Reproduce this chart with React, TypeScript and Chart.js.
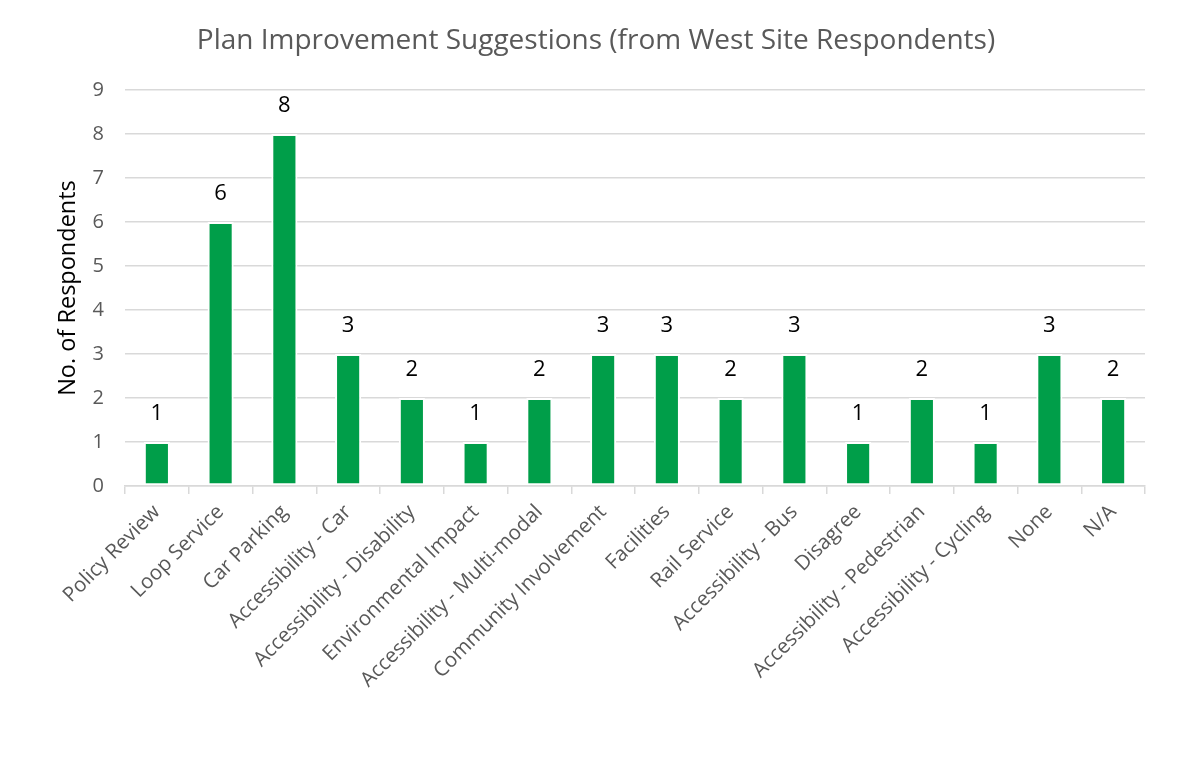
import React, { useEffect, useRef } from "react";
import { Chart, registerables } from "chart.js";

Chart.register(...registerables);

const categories = [
  "Policy Review",
  "Loop Service",
  "Car Parking",
  "Accessibility - Car",
  "Accessibility - Disability",
  "Environmental Impact",
  "Accessibility - Multi-modal",
  "Community Involvement",
  "Facilities",
  "Rail Service",
  "Accessibility - Bus",
  "Disagree",
  "Accessibility - Pedestrian",
  "Accessibility - Cycling",
  "None",
  "N/A",
];
const respondents = [1, 6, 8, 3, 2, 1, 2, 3, 3, 2, 3, 1, 2, 1, 3, 2];
const chartTitle = "Plan Improvement Suggestions (from West Site Respondents)";
const yAxisTitle = "No. of Respondents";

const FONT = "'Open Sans', sans-serif";

export default function App() {
  const ref = useRef<HTMLCanvasElement | null>(null);
  useEffect(() => {
    if (!ref.current) return;
    const labelPlugin = {
      id: "labels",
      afterDatasetsDraw(chart: any) {
        const ctx = chart.ctx;
        const meta = chart.getDatasetMeta(0);
        ctx.save();
        ctx.font = `22px ${FONT}`;
        ctx.fillStyle = "#000000";
        ctx.textAlign = "center";
        ctx.textBaseline = "middle";
        meta.data.forEach((bar: any, i: number) => {
          ctx.fillText(String(respondents[i]), bar.x, bar.y - 28);
        });
        ctx.font = `28px ${FONT}`;
        ctx.fillStyle = "#595959";
        ctx.fillText(chartTitle, 596, 41);
        ctx.restore();
      },
    };
    const chart = new Chart(ref.current, {
      type: "bar",
      data: {
        labels: categories,
        datasets: [
          {
            data: respondents,
            backgroundColor: "#009E49",
            borderColor: "#ffffff",
            borderWidth: 2,
            borderSkipped: false,
            categoryPercentage: 1,
            barPercentage: 0.41,
          },
        ],
      },
      options: {
        animation: false,
        responsive: false,
        maintainAspectRatio: false,
        layout: { padding: { top: 90, right: 52, left: 0, bottom: 0 } },
        plugins: {
          legend: { display: false },
          title: { display: false },
          tooltip: { enabled: false },
        },
        scales: {
          x: {
            offset: true,
            grid: {
              offset: true,
              drawOnChartArea: false,
              drawTicks: true,
              tickLength: 8,
              color: "#d9d9d9",
              lineWidth: 1.5,
            },
            border: { display: true, color: "#d9d9d9", width: 1.5 },
            ticks: {
              autoSkip: false,
              maxRotation: 45,
              minRotation: 45,
              color: "#595959",
              font: { family: FONT, size: 20.5 },
              padding: 6,
            },
            afterFit(s: any) {
              s.height = 758 - 486;
            },
          },
          y: {
            min: 0,
            max: 9,
            ticks: {
              stepSize: 1,
              color: "#595959",
              font: { family: FONT, size: 20 },
              padding: 21,
            },
            grid: { color: "#d9d9d9", lineWidth: 1.5, drawTicks: false },
            border: { display: false },
            title: {
              display: true,
              text: yAxisTitle,
              color: "#000000",
              font: { family: FONT, size: 23.5 },
              padding: { top: 54, bottom: 0 },
            },
            afterFit(s: any) {
              s.width = 125;
            },
          },
        },
      },
      plugins: [labelPlugin],
    });
    return () => chart.destroy();
  }, []);
  return (
    <div style={{ position: "absolute", left: 0, top: 0, width: 1197, height: 758, background: "#fff" }}>
      <canvas ref={ref} width={1197} height={758} style={{ display: "block" }} />
    </div>
  );
}
